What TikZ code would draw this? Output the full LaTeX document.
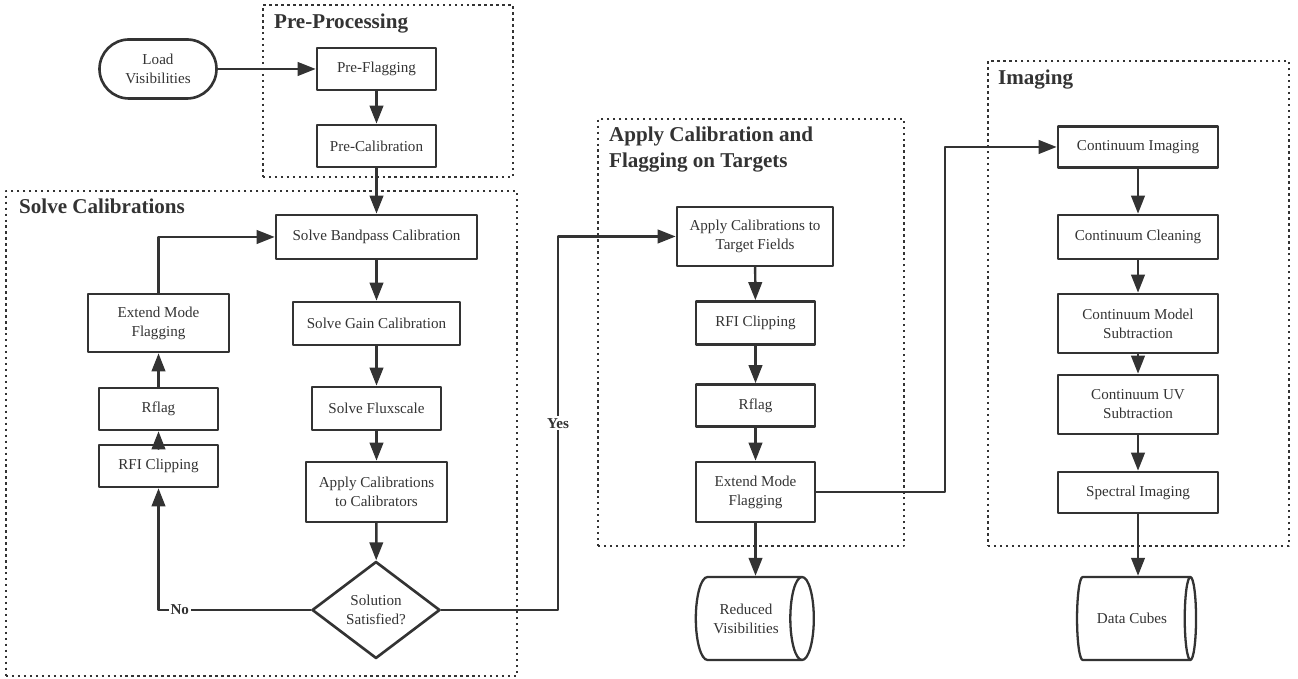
\documentclass[tikz,border=0pt]{standalone}
\usepackage{fontspec}
\setmainfont{Liberation Serif}
\usetikzlibrary{arrows.meta,positioning,calc,shapes.geometric}
\definecolor{ink}{HTML}{333333}

\begin{document}
\begin{tikzpicture}[>={Triangle[length=0.36cm,width=0.27cm]}, line cap=round, line join=round,
  every node/.style={text=ink, font=\fontsize{8.6}{10.8}\selectfont},
  stepbox/.style={draw=ink, line width=1.5pt, minimum width=2.38cm, minimum height=0.84cm, align=center, inner sep=2pt},
  startbox/.style={stepbox, rounded corners=0.59cm},
  storebox/.style={cylinder, draw=ink, line width=1.3pt, aspect=0.64, minimum height=2.36cm, minimum width=1.66cm, align=center, inner sep=2pt},
  checkbox/.style={diamond, draw=ink, line width=1.5pt, minimum width=2.56cm, minimum height=1.94cm, inner sep=0pt, align=center},
  groupbox/.style={draw=ink, line width=1.4pt, line cap=butt, dash pattern=on 1.4pt off 2pt, inner sep=0pt},
  grouptitle/.style={anchor=north west, inner sep=0pt, align=left, font=\fontsize{12}{14.7}\selectfont\bfseries},
  flow/.style={->, draw=ink, line width=1.4pt},
  answer/.style={fill=white, inner sep=1pt, font=\fontsize{8.6}{10}\selectfont\bfseries}]

\useasboundingbox (0,0) rectangle (25.96,13.58);

% stage frames
\node[groupbox, minimum width=5cm, minimum height=3.44cm] (preproc) at (7.76,11.76) {};
\node[groupbox, minimum width=10.22cm, minimum height=9.7cm] (solve) at (5.23,4.91) {};
\node[groupbox, minimum width=6.12cm, minimum height=8.54cm] (apply) at (15.02,6.93) {};
\node[groupbox, minimum width=6.02cm, minimum height=9.7cm] (imaging) at (22.77,7.51) {};
\node[grouptitle] (preproctitle) at ($(preproc.north west)+(0.24,-0.19)$) {Pre-Processing};
\node[grouptitle] (solvetitle) at ($(solve.north west)+(0.28,-0.17)$) {Solve Calibrations};
\node[grouptitle] (applytitle) at ($(apply.north west)+(0.24,-0.17)$) {Apply Calibration and\\Flagging on Targets};
\node[grouptitle] (imagingtitle) at ($(imaging.north west)+(0.22,-0.19)$) {Imaging};

% pre-processing
\node[startbox, minimum width=2.34cm, minimum height=1.18cm] (load) at (3.16,12.20) {Load\\Visibilities};
\node[stepbox] (preflag) at (7.53,12.20) {Pre-Flagging};
\node[stepbox] (precal) at (7.53,10.66) {Pre-Calibration};

% calibration loop
\node[stepbox, minimum width=4.02cm, minimum height=0.88cm] (bandpass) at (7.53,8.84) {Solve Bandpass Calibration};
\node[stepbox, minimum width=3.34cm, minimum height=0.86cm] (gain) at (7.53,7.11) {Solve Gain Calibration};
\node[stepbox, minimum width=2.58cm, minimum height=0.86cm] (flux) at (7.53,5.41) {Solve Fluxscale};
\node[stepbox, minimum width=2.82cm, minimum height=1.2cm] (applycal) at (7.53,3.74) {Apply Calibrations\\to Calibrators};
\node[checkbox] (decision) at (7.52,1.38) {Solution\\Satisfied?};
\node[stepbox, minimum width=2.82cm, minimum height=1.16cm] (extleft) at (3.17,7.12) {Extend Mode\\Flagging};
\node[stepbox] (rflagleft) at (3.17,5.40) {Rflag};
\node[stepbox] (rfileft) at (3.17,4.26) {RFI Clipping};

% targets
\node[stepbox, minimum width=3.12cm, minimum height=1.18cm] (target) at (15.10,8.85) {Apply Calibrations to\\Target Fields};
\node[stepbox, minimum height=0.86cm] (rfiright) at (15.11,7.12) {RFI Clipping};
\node[stepbox] (rflagright) at (15.11,5.47) {Rflag};
\node[stepbox, minimum height=1.2cm] (extright) at (15.11,3.74) {Extend Mode\\Flagging};
\node[storebox] (reduced) at (14.92,1.21) {Reduced\\Visibilities};

% imaging
\node[stepbox, minimum width=3.2cm, minimum height=0.82cm] (contimg) at (22.76,10.64) {Continuum Imaging};
\node[stepbox, minimum width=3.2cm, minimum height=0.88cm] (contclean) at (22.76,8.84) {Continuum Cleaning};
\node[stepbox, minimum width=3.2cm, minimum height=1.18cm] (contmodel) at (22.76,7.11) {Continuum Model\\Subtraction};
\node[stepbox, minimum width=3.2cm, minimum height=1.18cm] (contuv) at (22.76,5.49) {Continuum UV\\Subtraction};
\node[stepbox, minimum width=3.2cm, minimum height=0.82cm] (spectral) at (22.76,3.73) {Spectral Imaging};
\node[storebox, minimum height=2.38cm] (cubes) at (22.64,1.21) {Data Cubes};

\coordinate (yesbend) at (11.16,1.38);
\coordinate (imgbend) at (18.9,3.74);

\draw[flow] (load) -- (preflag);
\draw[flow] (preflag) -- (precal);
\draw[flow] (precal) -- (bandpass);
\draw[flow] (bandpass) -- (gain);
\draw[flow] (gain) -- (flux);
\draw[flow] (flux) -- (applycal);
\draw[flow] (applycal) -- (decision);
\draw[flow] (decision.west) -| node[answer, pos=0.43] {No} (rfileft.south);
\draw[flow] (rfileft) -- (rflagleft);
\draw[flow] (rflagleft) -- (extleft);
\draw[flow] (extleft.north) |- (bandpass.west);
\draw[flow] (decision.east) -- (yesbend) |- node[answer, pos=0.25] {Yes} (target.west);
\draw[flow] (target) -- (rfiright);
\draw[flow] (rfiright) -- (rflagright);
\draw[flow] (rflagright) -- (extright);
\draw[flow] (extright) -- (extright |- reduced.north);
\draw[flow] (extright.east) -- (imgbend) |- (contimg.west);
\draw[flow] (contimg) -- (contclean);
\draw[flow] (contclean) -- (contmodel);
\draw[flow] (contmodel) -- (contuv);
\draw[flow] (contuv) -- (spectral);
\draw[flow] (spectral) -- (spectral |- cubes.north);

\end{tikzpicture}
\end{document}
